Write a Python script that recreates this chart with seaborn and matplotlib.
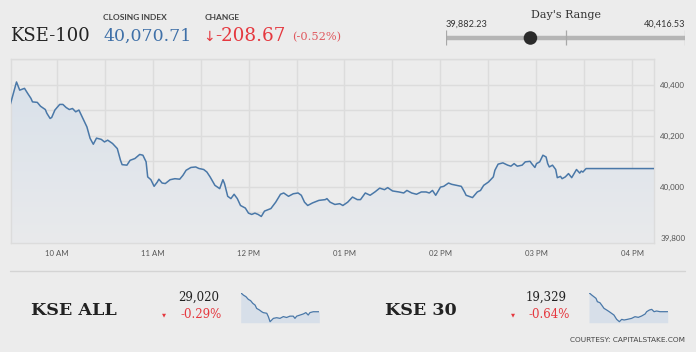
import numpy as np
import pandas as pd
import matplotlib
matplotlib.use("Agg")
import matplotlib.pyplot as plt
import seaborn as sns
from matplotlib.colors import LinearSegmentedColormap
from matplotlib.lines import Line2D
from matplotlib.ticker import FuncFormatter

# ---------------- data ----------------
kse100_times = [
    "09:31", "09:33", "09:35", "09:37", "09:40", "09:42", "09:44", "09:45", "09:48", "09:50",
    "09:53", "09:54", "09:56", "09:57", "09:59", "10:02", "10:04", "10:06", "10:08", "10:10",
    "10:12", "10:14", "10:15", "10:17", "10:19", "10:21", "10:23", "10:25", "10:28", "10:30",
    "10:32", "10:35", "10:38", "10:40", "10:41", "10:44", "10:46", "10:49", "10:52", "10:54",
    "10:56", "10:57", "10:59", "11:01", "11:03", "11:04", "11:06", "11:08", "11:11", "11:14",
    "11:17", "11:19", "11:21", "11:24", "11:27", "11:29", "11:32", "11:34", "11:36", "11:39",
    "11:42", "11:44", "11:45", "11:47", "11:49", "11:51", "11:53", "11:55", "11:58", "12:00",
    "12:02", "12:04", "12:06", "12:08", "12:10", "12:14", "12:17", "12:20", "12:22", "12:25",
    "12:28", "12:31", "12:33", "12:35", "12:37", "12:40", "12:44", "12:48", "12:49", "12:51",
    "12:54", "12:57", "12:59", "13:02", "13:05", "13:08", "13:10", "13:13", "13:16", "13:19",
    "13:22", "13:25", "13:27", "13:30", "13:34", "13:37", "13:39", "13:42", "13:45", "13:48",
    "13:51", "13:53", "13:55", "13:57", "14:00", "14:02", "14:05", "14:07", "14:10", "14:13",
    "14:15", "14:16", "14:20", "14:23", "14:25", "14:27", "14:30", "14:33", "14:34", "14:36",
    "14:39", "14:42", "14:44", "14:46", "14:48", "14:51", "14:53", "14:56", "14:57", "14:59",
    "15:00", "15:02", "15:04", "15:06", "15:07", "15:08", "15:10", "15:12", "15:13", "15:15",
    "15:16", "15:18", "15:20", "15:22", "15:25", "15:27", "15:28", "15:29", "15:31", "16:15",
]
kse100_values = [
    40319, 40365, 40410, 40378, 40385, 40365, 40346, 40332, 40330, 40315,
    40302, 40287, 40267, 40271, 40300, 40322, 40322, 40310, 40302, 40306,
    40293, 40300, 40287, 40260, 40234, 40189, 40166, 40190, 40185, 40175,
    40182, 40169, 40149, 40103, 40086, 40084, 40103, 40110, 40126, 40123,
    40097, 40038, 40027, 40001, 40018, 40029, 40014, 40012, 40027, 40031,
    40029, 40044, 40064, 40075, 40077, 40071, 40067, 40057, 40038, 40005,
    39992, 40027, 40012, 39962, 39953, 39970, 39953, 39926, 39916, 39896,
    39891, 39896, 39891, 39883, 39904, 39914, 39939, 39970, 39975, 39962,
    39972, 39975, 39966, 39939, 39926, 39936, 39946, 39949, 39953, 39939,
    39930, 39933, 39926, 39939, 39959, 39949, 39949, 39975, 39966, 39979,
    39994, 39988, 39996, 39983, 39979, 39975, 39985, 39975, 39970, 39979,
    39979, 39975, 39985, 39966, 39998, 40001, 40014, 40009, 40005, 40001,
    39979, 39966, 39957, 39979, 39985, 40005, 40018, 40038, 40064, 40088,
    40093, 40084, 40080, 40090, 40080, 40084, 40097, 40099, 40090, 40075,
    40090, 40097, 40123, 40116, 40090, 40077, 40084, 40067, 40035, 40040,
    40031, 40038, 40051, 40035, 40067, 40053, 40061, 40057, 40070.71, 40070.71,
]

kse_all_times = ["09:31", "09:45", "09:58", "10:10", "10:22", "10:33", "10:45", "10:53",
                 "11:07", "11:19", "11:27", "11:45", "11:53", "12:02", "12:10", "12:19",
                 "12:36", "12:53", "13:10", "13:27", "13:44", "14:01", "14:10", "14:19",
                 "14:36", "14:53", "15:06", "15:18", "15:27", "15:44", "16:15"]
kse_all_values = [29106, 29095, 29088, 29076, 29070, 29058, 29050, 29035,
                  29028, 29020, 29016, 29013, 28998, 28975, 28982, 28990,
                  28993, 28990, 28998, 28994, 29000, 29000, 28990, 29000,
                  29005, 29010, 29016, 29005, 29016, 29020, 29020]

kse30_times = ["09:31", "09:45", "09:56", "10:07", "10:14", "10:27", "10:36", "10:48",
               "11:02", "11:15", "11:27", "11:39", "11:53", "12:07", "12:19", "12:31",
               "12:48", "13:10", "13:27", "13:44", "14:01", "14:19", "14:27", "14:41",
               "14:53", "15:05", "15:18", "15:36", "16:15"]
kse30_values = [19386, 19379, 19374, 19369, 19359, 19356, 19349, 19339,
                19334, 19329, 19324, 19319, 19306, 19299, 19306, 19304,
                19306, 19309, 19314, 19312, 19316, 19322, 19329, 19334,
                19336, 19329, 19331, 19329, 19329]

x_tick_hours = [10, 11, 12, 13, 14, 15, 16]
x_tick_labels = ["10 AM", "11 AM", "12 PM", "01 PM", "02 PM", "03 PM", "04 PM"]
y_tick_values = [39800, 40000, 40200, 40400]

closing_index = 40070.71
change_pts = -208.67
change_pct = -0.52
day_low = 39882.23
day_high = 40416.53

summary_names = ["KSE ALL", "KSE 30"]
summary_values = ["29,020", "19,329"]
summary_changes = ["-0.29%", "-0.64%"]


def to_hours(ts):
    t = pd.to_datetime(pd.Series(ts), format="%H:%M")
    return (t.dt.hour + t.dt.minute / 60.0).to_numpy()


# ---------------- style ----------------
BG = "#ececec"
LINE = "#4a78a8"
GRID = "#dcdcdc"
RED = "#e5383f"

sns.set_theme(style="white")
plt.rcParams["font.family"] = ["DejaVu Sans"]

W, H = 696, 352
fig = plt.figure(figsize=(W / 100, H / 100), dpi=100, facecolor=BG)


def fx(px):
    return px / W


def fy(py):
    return 1 - py / H


# ---------------- main chart ----------------
ax = fig.add_axes([fx(11), fy(243), fx(654) - fx(11), fy(59) - fy(243)])
ax.set_facecolor(BG)
df = pd.DataFrame({"hour": to_hours(kse100_times), "value": kse100_values})
Y0, Y1 = 39779, 40500
X0, X1 = 9.526, 16.224

coll = ax.fill_between(df["hour"], df["value"], Y0, color="none", lw=0)
cmap = LinearSegmentedColormap.from_list("g", ["#e9eaec", "#d9e1ea"])
grad = np.linspace(0, 1, 256).reshape(-1, 1)
im = ax.imshow(grad, extent=[X0 - 0.1, X1 + 0.1, Y0, df["value"].max()],
               origin="lower", aspect="auto", cmap=cmap, zorder=1)
im.set_clip_path(coll.get_paths()[0], transform=ax.transData)

sns.lineplot(data=df, x="hour", y="value", ax=ax, color=LINE, lw=1.1, zorder=3)

ax.set_xlim(X0, X1)
ax.set_ylim(Y0, Y1)
ax.set_xticks(x_tick_hours)
ax.set_xticklabels(x_tick_labels)
ax.set_xticks([h + 0.5 for h in x_tick_hours[:-1]], minor=True)
ax.yaxis.tick_right()
ax.set_yticks(y_tick_values)
ax.yaxis.set_major_formatter(FuncFormatter(lambda v, p: f"{int(v):,}"))
ax.set_yticks([v + 100 for v in y_tick_values], minor=True)
ax.grid(True, which="both", color=GRID, lw=1, zorder=0)
ax.set_axisbelow(True)
ax.tick_params(which="both", length=0)
ax.tick_params(axis="x", pad=5, labelsize=5.6, labelcolor="#555555")
ax.tick_params(axis="y", pad=4.5, labelsize=5.8, labelcolor="#555555")
for lab in ax.get_xticklabels() + ax.get_yticklabels():
    lab.set_family("Lato")
ax.set_xlabel("")
ax.set_ylabel("")
for s in ax.spines.values():
    s.set_color(GRID)
    s.set_linewidth(1)

# ---------------- header ----------------
SERIF = "DejaVu Serif"
fig.text(fx(10), fy(40.7), "KSE-100", family=SERIF, size=13, color="#222222", va="baseline")
fig.text(fx(103), fy(20), "CLOSING INDEX", family="Lato", weight="bold", size=6,
         color="#444444", va="baseline")
fig.text(fx(103), fy(40.7), f"{closing_index:,.2f}", family=SERIF, size=12.5,
         color="#3f70a8", va="baseline")
fig.text(fx(205), fy(20), "CHANGE", family="Lato", weight="bold", size=6,
         color="#444444", va="baseline")
fig.text(fx(203.5), fy(40.5), "\u2193", family="DejaVu Sans", size=10, color=RED,
         va="baseline")
fig.text(fx(215), fy(40.7), f"{change_pts:.2f}", family=SERIF, size=13.2, color=RED,
         va="baseline")
fig.text(fx(292), fy(40.5), f"({change_pct:.2f}%)", family=SERIF, size=8.2,
         color="#e0585e", va="baseline")

# ---------------- day's range ----------------
fig.text(fx(566), fy(18), "Day's Range", family=SERIF, size=8, color="#333333",
         ha="center", va="baseline")
fig.text(fx(446), fy(27), f"{day_low:,.2f}", family="Lato", size=6.6, color="#333333",
         va="baseline")
fig.text(fx(685), fy(27), f"{day_high:,.2f}", family="Lato", size=6.6, color="#333333",
         ha="right", va="baseline")
axr = fig.add_axes([fx(446), fy(46), fx(685) - fx(446), fy(30) - fy(46)])
axr.set_ylim(-1, 1)
axr.set_axis_off()
axr.hlines(0, day_low, day_high, color="#b5b5b5", lw=3.2)
axr.vlines([day_low, (day_low + day_high) / 2, day_high], -0.85, 0.95, color="#a8a8a8", lw=0.9)
sns.scatterplot(x=[closing_index], y=[0], ax=axr, s=95, color="#2b2b2b", edgecolor="none",
                zorder=5, legend=False)
axr.set_xlim(day_low - 1, day_high + 1)

# ---------------- separator ----------------
fig.add_artist(Line2D([fx(10), fx(685)], [fy(271), fy(271)], color="#d4d4d4", lw=1))

# ---------------- bottom summaries ----------------
name_x = [31, 385]
val_right = [219, 567]
chg_right = [222, 570]
tri_x = [163.5, 512.5]
spark_boxes = [(240.7, 319.3), (589, 667.7)]
spark_data = [(kse_all_times, kse_all_values), (kse30_times, kse30_values)]

for i in range(2):
    fig.text(fx(name_x[i]), fy(315), summary_names[i], family=SERIF, weight="bold",
             size=12.6, color="#222222", va="baseline")
    fig.text(fx(val_right[i]), fy(301), summary_values[i], family=SERIF, size=8.5,
             color="#222222", ha="right", va="baseline")
    fig.text(fx(chg_right[i]), fy(318), summary_changes[i], family=SERIF, size=8.5,
             color=RED, ha="right", va="baseline")
    fig.text(fx(tri_x[i]), fy(315), "\u25bc", family="DejaVu Sans", size=3.8, color=RED,
             ha="center", va="center")

    x_l, x_r = spark_boxes[i]
    axs = fig.add_axes([fx(x_l), fy(322.7), fx(x_r) - fx(x_l), fy(292.7) - fy(322.7)])
    t, v = spark_data[i]
    sdf = pd.DataFrame({"hour": to_hours(t), "value": v})
    lo = sdf["value"].min() - (sdf["value"].max() - sdf["value"].min()) * 0.035
    axs.fill_between(sdf["hour"], sdf["value"], lo, color="#d7dfe9", lw=0)
    sns.lineplot(data=sdf, x="hour", y="value", ax=axs, color=LINE, lw=0.9)
    axs.set_xlim(sdf["hour"].min(), sdf["hour"].max())
    axs.set_ylim(lo, sdf["value"].max())
    axs.set_axis_off()

fig.text(fx(684.5), fy(342), "COURTESY: CAPITALSTAKE.COM", family="DejaVu Sans", size=5.3,
         color="#444444", ha="right", va="baseline")

fig.savefig("out.png", dpi=100, facecolor=BG)
